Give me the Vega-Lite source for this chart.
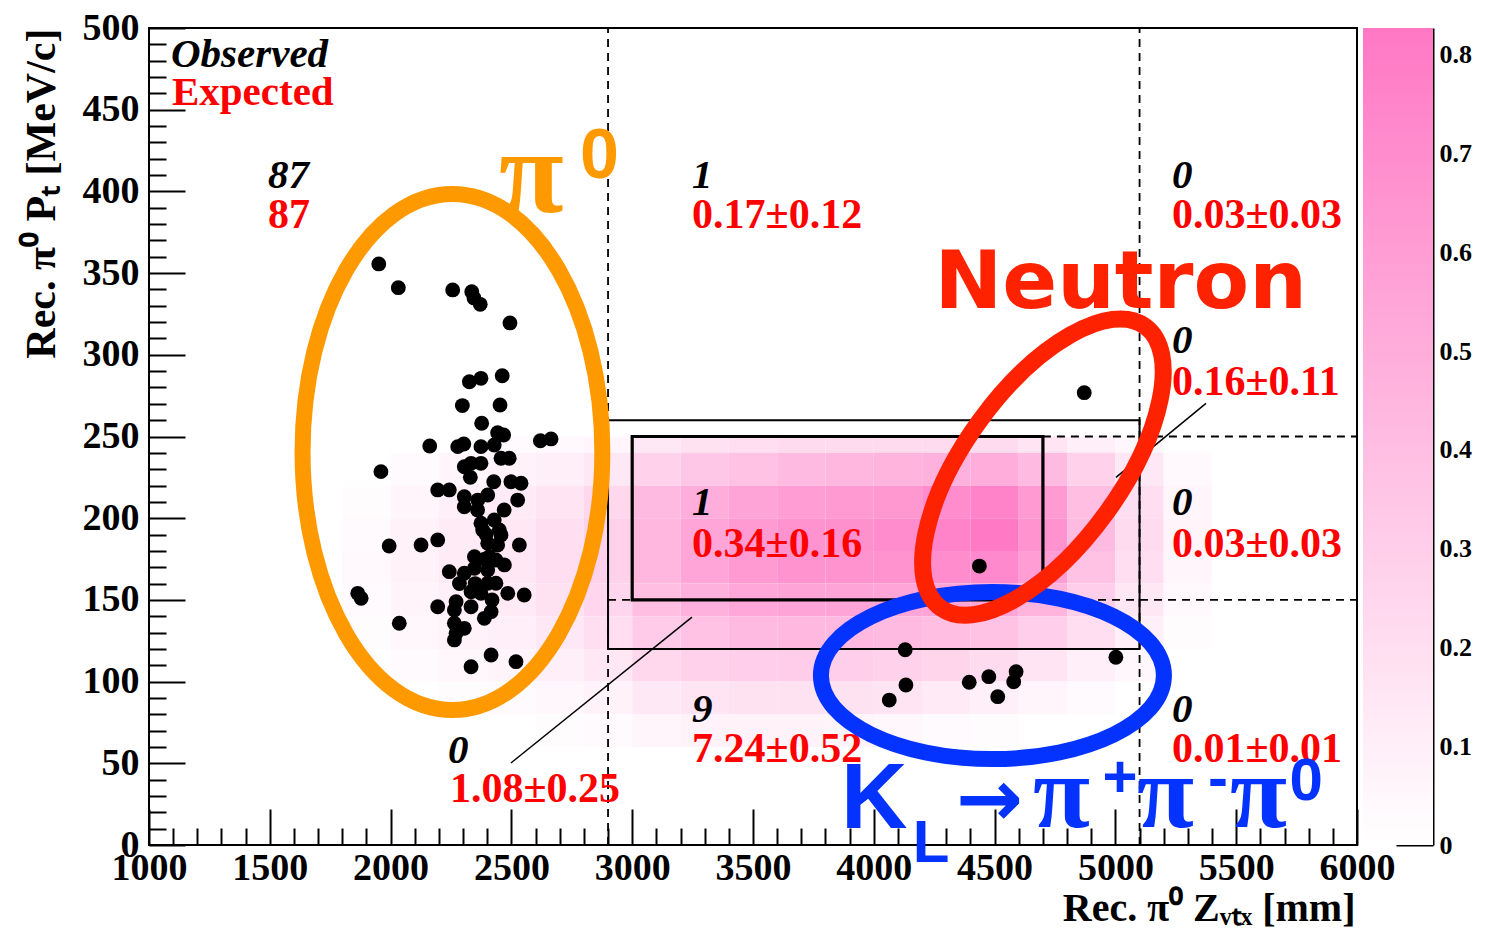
{
  "$schema": "https://vega.github.io/schema/vega-lite/v6.json",
  "background": "white",
  "padding": {"left": 19, "top": 8, "right": 0, "bottom": 0},
  "autosize": {"type": "pad"},
  "config": {"view": {"stroke": null}},
  "spacing": 6,
  "bounds": "flush",
  "datasets": {
    "heat": [
      {"x":2400,"x2":2600,"y":240,"y2":250,"v":0.03},{"x":2600,"x2":2800,"y":240,"y2":250,"v":0.04},{"x":2800,"x2":3000,"y":240,"y2":250,"v":0.06},{"x":3000,"x2":3200,"y":240,"y2":250,"v":0.14},{"x":3200,"x2":3400,"y":240,"y2":250,"v":0.18},{"x":3400,"x2":3600,"y":240,"y2":250,"v":0.2},{"x":3600,"x2":3800,"y":240,"y2":250,"v":0.22},{"x":3800,"x2":4000,"y":240,"y2":250,"v":0.22},{"x":4000,"x2":4200,"y":240,"y2":250,"v":0.22},{"x":4200,"x2":4400,"y":240,"y2":250,"v":0.22},{"x":4400,"x2":4600,"y":240,"y2":250,"v":0.22},{"x":4600,"x2":4800,"y":240,"y2":250,"v":0.16},{"x":4800,"x2":5000,"y":240,"y2":250,"v":0.1},{"x":5000,"x2":5200,"y":240,"y2":250,"v":0.05},
      {"x":2000,"x2":2200,"y":220,"y2":240,"v":0.03},{"x":2200,"x2":2400,"y":220,"y2":240,"v":0.06},{"x":2400,"x2":2600,"y":220,"y2":240,"v":0.08},{"x":2600,"x2":2800,"y":220,"y2":240,"v":0.1},{"x":2800,"x2":3000,"y":220,"y2":240,"v":0.14},{"x":3000,"x2":3200,"y":220,"y2":240,"v":0.28},{"x":3200,"x2":3400,"y":220,"y2":240,"v":0.34},{"x":3400,"x2":3600,"y":220,"y2":240,"v":0.38},{"x":3600,"x2":3800,"y":220,"y2":240,"v":0.42},{"x":3800,"x2":4000,"y":220,"y2":240,"v":0.44},{"x":4000,"x2":4200,"y":220,"y2":240,"v":0.46},{"x":4200,"x2":4400,"y":220,"y2":240,"v":0.48},{"x":4400,"x2":4600,"y":220,"y2":240,"v":0.5},{"x":4600,"x2":4800,"y":220,"y2":240,"v":0.42},{"x":4800,"x2":5000,"y":220,"y2":240,"v":0.28},{"x":5000,"x2":5200,"y":220,"y2":240,"v":0.14},{"x":5200,"x2":5400,"y":220,"y2":240,"v":0.04},
      {"x":1800,"x2":2000,"y":200,"y2":220,"v":0.02},{"x":2000,"x2":2200,"y":200,"y2":220,"v":0.06},{"x":2200,"x2":2400,"y":200,"y2":220,"v":0.1},{"x":2400,"x2":2600,"y":200,"y2":220,"v":0.12},{"x":2600,"x2":2800,"y":200,"y2":220,"v":0.16},{"x":2800,"x2":3000,"y":200,"y2":220,"v":0.24},{"x":3000,"x2":3200,"y":200,"y2":220,"v":0.42},{"x":3200,"x2":3400,"y":200,"y2":220,"v":0.5},{"x":3400,"x2":3600,"y":200,"y2":220,"v":0.56},{"x":3600,"x2":3800,"y":200,"y2":220,"v":0.6},{"x":3800,"x2":4000,"y":200,"y2":220,"v":0.62},{"x":4000,"x2":4200,"y":200,"y2":220,"v":0.64},{"x":4200,"x2":4400,"y":200,"y2":220,"v":0.7},{"x":4400,"x2":4600,"y":200,"y2":220,"v":0.76},{"x":4600,"x2":4800,"y":200,"y2":220,"v":0.62},{"x":4800,"x2":5000,"y":200,"y2":220,"v":0.4},{"x":5000,"x2":5200,"y":200,"y2":220,"v":0.2},{"x":5200,"x2":5400,"y":200,"y2":220,"v":0.06},
      {"x":1800,"x2":2000,"y":180,"y2":200,"v":0.03},{"x":2000,"x2":2200,"y":180,"y2":200,"v":0.08},{"x":2200,"x2":2400,"y":180,"y2":200,"v":0.12},{"x":2400,"x2":2600,"y":180,"y2":200,"v":0.15},{"x":2600,"x2":2800,"y":180,"y2":200,"v":0.2},{"x":2800,"x2":3000,"y":180,"y2":200,"v":0.28},{"x":3000,"x2":3200,"y":180,"y2":200,"v":0.45},{"x":3200,"x2":3400,"y":180,"y2":200,"v":0.55},{"x":3400,"x2":3600,"y":180,"y2":200,"v":0.62},{"x":3600,"x2":3800,"y":180,"y2":200,"v":0.66},{"x":3800,"x2":4000,"y":180,"y2":200,"v":0.68},{"x":4000,"x2":4200,"y":180,"y2":200,"v":0.7},{"x":4200,"x2":4400,"y":180,"y2":200,"v":0.76},{"x":4400,"x2":4600,"y":180,"y2":200,"v":0.82},{"x":4600,"x2":4800,"y":180,"y2":200,"v":0.66},{"x":4800,"x2":5000,"y":180,"y2":200,"v":0.42},{"x":5000,"x2":5200,"y":180,"y2":200,"v":0.22},{"x":5200,"x2":5400,"y":180,"y2":200,"v":0.07},
      {"x":1800,"x2":2000,"y":160,"y2":180,"v":0.04},{"x":2000,"x2":2200,"y":160,"y2":180,"v":0.08},{"x":2200,"x2":2400,"y":160,"y2":180,"v":0.12},{"x":2400,"x2":2600,"y":160,"y2":180,"v":0.15},{"x":2600,"x2":2800,"y":160,"y2":180,"v":0.2},{"x":2800,"x2":3000,"y":160,"y2":180,"v":0.28},{"x":3000,"x2":3200,"y":160,"y2":180,"v":0.45},{"x":3200,"x2":3400,"y":160,"y2":180,"v":0.55},{"x":3400,"x2":3600,"y":160,"y2":180,"v":0.62},{"x":3600,"x2":3800,"y":160,"y2":180,"v":0.66},{"x":3800,"x2":4000,"y":160,"y2":180,"v":0.66},{"x":4000,"x2":4200,"y":160,"y2":180,"v":0.66},{"x":4200,"x2":4400,"y":160,"y2":180,"v":0.7},{"x":4400,"x2":4600,"y":160,"y2":180,"v":0.72},{"x":4600,"x2":4800,"y":160,"y2":180,"v":0.6},{"x":4800,"x2":5000,"y":160,"y2":180,"v":0.38},{"x":5000,"x2":5200,"y":160,"y2":180,"v":0.2},{"x":5200,"x2":5400,"y":160,"y2":180,"v":0.06},
      {"x":1800,"x2":2000,"y":140,"y2":160,"v":0.03},{"x":2000,"x2":2200,"y":140,"y2":160,"v":0.07},{"x":2200,"x2":2400,"y":140,"y2":160,"v":0.1},{"x":2400,"x2":2600,"y":140,"y2":160,"v":0.13},{"x":2600,"x2":2800,"y":140,"y2":160,"v":0.18},{"x":2800,"x2":3000,"y":140,"y2":160,"v":0.25},{"x":3000,"x2":3200,"y":140,"y2":160,"v":0.4},{"x":3200,"x2":3400,"y":140,"y2":160,"v":0.48},{"x":3400,"x2":3600,"y":140,"y2":160,"v":0.54},{"x":3600,"x2":3800,"y":140,"y2":160,"v":0.56},{"x":3800,"x2":4000,"y":140,"y2":160,"v":0.56},{"x":4000,"x2":4200,"y":140,"y2":160,"v":0.55},{"x":4200,"x2":4400,"y":140,"y2":160,"v":0.56},{"x":4400,"x2":4600,"y":140,"y2":160,"v":0.55},{"x":4600,"x2":4800,"y":140,"y2":160,"v":0.46},{"x":4800,"x2":5000,"y":140,"y2":160,"v":0.3},{"x":5000,"x2":5200,"y":140,"y2":160,"v":0.15},{"x":5200,"x2":5400,"y":140,"y2":160,"v":0.04},
      {"x":1800,"x2":2000,"y":120,"y2":140,"v":0.02},{"x":2000,"x2":2200,"y":120,"y2":140,"v":0.05},{"x":2200,"x2":2400,"y":120,"y2":140,"v":0.08},{"x":2400,"x2":2600,"y":120,"y2":140,"v":0.1},{"x":2600,"x2":2800,"y":120,"y2":140,"v":0.14},{"x":2800,"x2":3000,"y":120,"y2":140,"v":0.2},{"x":3000,"x2":3200,"y":120,"y2":140,"v":0.32},{"x":3200,"x2":3400,"y":120,"y2":140,"v":0.38},{"x":3400,"x2":3600,"y":120,"y2":140,"v":0.42},{"x":3600,"x2":3800,"y":120,"y2":140,"v":0.43},{"x":3800,"x2":4000,"y":120,"y2":140,"v":0.43},{"x":4000,"x2":4200,"y":120,"y2":140,"v":0.42},{"x":4200,"x2":4400,"y":120,"y2":140,"v":0.4},{"x":4400,"x2":4600,"y":120,"y2":140,"v":0.38},{"x":4600,"x2":4800,"y":120,"y2":140,"v":0.3},{"x":4800,"x2":5000,"y":120,"y2":140,"v":0.2},{"x":5000,"x2":5200,"y":120,"y2":140,"v":0.1},{"x":5200,"x2":5400,"y":120,"y2":140,"v":0.02},
      {"x":2000,"x2":2200,"y":100,"y2":120,"v":0.03},{"x":2200,"x2":2400,"y":100,"y2":120,"v":0.05},{"x":2400,"x2":2600,"y":100,"y2":120,"v":0.07},{"x":2600,"x2":2800,"y":100,"y2":120,"v":0.1},{"x":2800,"x2":3000,"y":100,"y2":120,"v":0.15},{"x":3000,"x2":3200,"y":100,"y2":120,"v":0.24},{"x":3200,"x2":3400,"y":100,"y2":120,"v":0.28},{"x":3400,"x2":3600,"y":100,"y2":120,"v":0.3},{"x":3600,"x2":3800,"y":100,"y2":120,"v":0.31},{"x":3800,"x2":4000,"y":100,"y2":120,"v":0.3},{"x":4000,"x2":4200,"y":100,"y2":120,"v":0.28},{"x":4200,"x2":4400,"y":100,"y2":120,"v":0.26},{"x":4400,"x2":4600,"y":100,"y2":120,"v":0.22},{"x":4600,"x2":4800,"y":100,"y2":120,"v":0.16},{"x":4800,"x2":5000,"y":100,"y2":120,"v":0.1},{"x":5000,"x2":5200,"y":100,"y2":120,"v":0.05},
      {"x":2200,"x2":2400,"y":80,"y2":100,"v":0.02},{"x":2400,"x2":2600,"y":80,"y2":100,"v":0.03},{"x":2600,"x2":2800,"y":80,"y2":100,"v":0.05},{"x":2800,"x2":3000,"y":80,"y2":100,"v":0.08},{"x":3000,"x2":3200,"y":80,"y2":100,"v":0.14},{"x":3200,"x2":3400,"y":80,"y2":100,"v":0.16},{"x":3400,"x2":3600,"y":80,"y2":100,"v":0.18},{"x":3600,"x2":3800,"y":80,"y2":100,"v":0.18},{"x":3800,"x2":4000,"y":80,"y2":100,"v":0.18},{"x":4000,"x2":4200,"y":80,"y2":100,"v":0.16},{"x":4200,"x2":4400,"y":80,"y2":100,"v":0.13},{"x":4400,"x2":4600,"y":80,"y2":100,"v":0.1},{"x":4600,"x2":4800,"y":80,"y2":100,"v":0.06},{"x":4800,"x2":5000,"y":80,"y2":100,"v":0.03},
      {"x":2600,"x2":2800,"y":60,"y2":80,"v":0.02},{"x":2800,"x2":3000,"y":60,"y2":80,"v":0.03},{"x":3000,"x2":3200,"y":60,"y2":80,"v":0.06},{"x":3200,"x2":3400,"y":60,"y2":80,"v":0.08},{"x":3400,"x2":3600,"y":60,"y2":80,"v":0.08},{"x":3600,"x2":3800,"y":60,"y2":80,"v":0.08},{"x":3800,"x2":4000,"y":60,"y2":80,"v":0.07},{"x":4000,"x2":4200,"y":60,"y2":80,"v":0.05},{"x":4200,"x2":4400,"y":60,"y2":80,"v":0.03},{"x":4400,"x2":4600,"y":60,"y2":80,"v":0.02}
    ],
    "dots": [
      {"x":1951,"y":355.6},{"x":2032,"y":341.1},{"x":2257,"y":339.7},{"x":2336,"y":338.6},{"x":2345,"y":334.8},{"x":2371,"y":330.9},{"x":2494,"y":319.5},{"x":2326,"y":283.5},{"x":2374,"y":285.6},{"x":2462,"y":287.2},
      {"x":2297,"y":268.9},{"x":2453,"y":269.3},{"x":2377,"y":258.1},{"x":2443,"y":252.3},{"x":2468,"y":250.9},{"x":2620,"y":247.4},{"x":2664,"y":248.5},{"x":2162,"y":244.2},{"x":2278,"y":243.8},{"x":2303,"y":245.4},
      {"x":2374,"y":243.8},{"x":2429,"y":244.8},{"x":2457,"y":236.7},{"x":2491,"y":236.7},{"x":2305,"y":231.5},{"x":2333,"y":233.6},{"x":2374,"y":233.6},{"x":1960,"y":228.5},{"x":2427,"y":222.3},{"x":2498,"y":222.3},
      {"x":2540,"y":221.4},{"x":2195,"y":217.3},{"x":2243,"y":217.3},{"x":2305,"y":213.2},{"x":2361,"y":211.1},{"x":2402,"y":214.2},{"x":2305,"y":207},{"x":2526,"y":211.1},{"x":2374,"y":196.9},{"x":2429,"y":198.9},
      {"x":2381,"y":192.8},{"x":2450,"y":192.8},{"x":2457,"y":189.7},{"x":2402,"y":184.6},{"x":2443,"y":183.6},{"x":2533,"y":183.6},{"x":1994,"y":183},{"x":2126,"y":183.6},{"x":2195,"y":186.7},{"x":2347,"y":176.4},
      {"x":2409,"y":176.4},{"x":2436,"y":174.4},{"x":2243,"y":167.3},{"x":2305,"y":166.3},{"x":2347,"y":169.3},{"x":2402,"y":168.3},{"x":2471,"y":171.4},{"x":2402,"y":160.2},{"x":2436,"y":160.2},{"x":2333,"y":155},
      {"x":2374,"y":154},{"x":2485,"y":154},{"x":2553,"y":153},{"x":1864,"y":154},{"x":1878,"y":151},{"x":2195,"y":145.8},{"x":2271,"y":148.9},{"x":2264,"y":143.8},{"x":2333,"y":145.8},{"x":2416,"y":142.8},
      {"x":2388,"y":138.7},{"x":2036,"y":135.7},{"x":2264,"y":135.7},{"x":2305,"y":132.6},{"x":2271,"y":129.6},{"x":2264,"y":125.5},{"x":2416,"y":116.3},{"x":2333,"y":109.1},{"x":2519,"y":112.2},
      {"x":2360,"y":205},{"x":2395,"y":190},{"x":2350,"y":160},{"x":2420,"y":150},{"x":2330,"y":225},{"x":2470,"y":205},{"x":2390,"y":175},{"x":2285,"y":160},
      {"x":4871,"y":276.8},{"x":4437,"y":170.7},{"x":5002,"y":114.9},{"x":4130,"y":119.5},{"x":4133,"y":97.9},{"x":4064,"y":88.7},{"x":4395,"y":99.6},{"x":4476,"y":103},{"x":4513,"y":90.8},{"x":4589,"y":106.1},{"x":4579,"y":99.9}
    ],
    "vlines": [{"x":2900,"y":0,"y2":500},{"x":5100,"y":0,"y2":500}],
    "hlines": [{"x":4700,"x2":6000,"y":250},{"x":2900,"x2":6000,"y":150}],
    "outerBox": [{"x":2900,"x2":5100,"y":120,"y2":260}],
    "innerBox": [{"x":3000,"x2":4700,"y":150,"y2":250}],
    "leaders": [{"x":2498,"y":50.2,"x2":3247.5,"y2":139.5},{"x":5002.4,"y":225,"x2":5374.9,"y2":270.3}],
    "hdrObs": [{"x":1091,"y":476.1,"t":"Observed"}],
    "hdrExp": [{"x":1095,"y":452.9,"t":"Expected"}],
    "obs": [
      {"x":1493,"y":402.1,"t":"87"},{"x":3248,"y":402.1,"t":"1"},{"x":5234,"y":402.1,"t":"0"},{"x":5234,"y":301.1,"t":"0"},{"x":3248,"y":202,"t":"1"},{"x":5234,"y":202,"t":"0"},{"x":3248,"y":75.3,"t":"9"},{"x":5234,"y":75.3,"t":"0"},{"x":2238,"y":50.2,"t":"0"}
    ],
    "exp": [
      {"x":1493,"y":377.6,"t":"87"},{"x":3248,"y":377.6,"t":"0.17±0.12"},{"x":5234,"y":377.6,"t":"0.03±0.03"},{"x":5234,"y":275.4,"t":"0.16±0.11"},{"x":3248,"y":176.3,"t":"0.34±0.16"},{"x":5234,"y":176.3,"t":"0.03±0.03"},{"x":3248,"y":50.8,"t":"7.24±0.52"},{"x":5234,"y":50.8,"t":"0.01±0.01"},{"x":2246,"y":26.3,"t":"1.08±0.25"}
    ],
    "ellOrange": [{"x":2256,"y":240.5}],
    "ellRed": [{"x":4700,"y":231.3}],
    "ellBlue": [{"x":4491,"y":103.7}],
    "piOrange": [{"x":2449,"y":387.4,"t":"π"}],
    "zeroOrange": [{"x":2784,"y":408.2,"t":"0"}],
    "neutron": [{"x":4251,"y":328.6,"t":"Neutron"}],
    "kBig": [{"x":3864,"y":10.4,"t":"K"}],
    "arrow": [{"x":4340,"y":11.6,"t":"→"}],
    "piBlue": [{"x":4659,"y":11,"t":"π"},{"x":5089,"y":11,"t":"π"},{"x":5474,"y":11,"t":"π"}],
    "blueSmall": [{"x":4161,"y":-10.4,"t":"L"},{"x":4947,"y":29.4,"t":"+"},{"x":5383,"y":28.8,"t":"-"},{"x":5721,"y":27.5,"t":"0"}],
    "cbar": [{"lo":0,"hi":0.827}]
  },
  "hconcat": [
    {
      "width": 1208,
      "height": 817,
      "view": {"stroke": "black", "strokeWidth": 2},
      "encoding": {
        "x": {
          "field": "x", "type": "quantitative",
          "scale": {"domain": [1000, 6000], "nice": false, "zero": false},
          "axis": {
            "values": [1000,1100,1200,1300,1400,1500,1600,1700,1800,1900,2000,2100,2200,2300,2400,2500,2600,2700,2800,2900,3000,3100,3200,3300,3400,3500,3600,3700,3800,3900,4000,4100,4200,4300,4400,4500,4600,4700,4800,4900,5000,5100,5200,5300,5400,5500,5600,5700,5800,5900,6000],
            "format": "d",
            "labelExpr": "datum.value % 500 === 0 ? datum.label : ''",
            "tickSize": {"condition": {"test": "datum.value % 500 === 0", "value": -36}, "value": -17},
            "tickColor": "black", "tickWidth": 2,
            "domain": false, "grid": false,
            "labelFont": "Liberation Serif", "labelFontWeight": "bold", "labelFontSize": 38, "labelColor": "black",
            "labelPadding": 40, "labelFlush": false, "labelOverlap": false,
            "title": "Rec.  π⁰  Zᵥₜₓ [mm]",
            "titleFont": "Liberation Serif", "titleFontWeight": "bold", "titleFontSize": 40, "titleColor": "black",
            "titleX": 1206, "titleY": 75, "titleAlign": "right", "titleAnchor": "end", "titleBaseline": "alphabetic", "titleAngle": 0
          }
        },
        "y": {
          "field": "y", "type": "quantitative",
          "scale": {"domain": [0, 500], "nice": false, "zero": false},
          "axis": {
            "values": [0,10,20,30,40,50,60,70,80,90,100,110,120,130,140,150,160,170,180,190,200,210,220,230,240,250,260,270,280,290,300,310,320,330,340,350,360,370,380,390,400,410,420,430,440,450,460,470,480,490,500],
            "format": "d",
            "labelExpr": "datum.value % 50 === 0 ? datum.label : ''",
            "tickSize": {"condition": {"test": "datum.value % 50 === 0", "value": -36}, "value": -17},
            "tickColor": "black", "tickWidth": 2,
            "domain": false, "grid": false,
            "labelFont": "Liberation Serif", "labelFontWeight": "bold", "labelFontSize": 38, "labelColor": "black",
            "labelPadding": 46, "labelAlign": "right", "labelBaseline": "middle", "labelFlush": false, "labelOverlap": false,
            "title": "Rec.  π⁰  Pₜ [MeV/c]",
            "titleFont": "Liberation Serif", "titleFontWeight": "bold", "titleFontSize": 42, "titleColor": "black",
            "titleX": -95, "titleY": 0, "titleAngle": 270, "titleAlign": "right", "titleBaseline": "alphabetic"
          }
        }
      },
      "layer": [
        {
          "data": {"name": "heat"},
          "mark": {"type": "rect"},
          "encoding": {
            "x2": {"field": "x2"},
            "y2": {"field": "y2"},
            "color": {"field": "v", "type": "quantitative", "scale": {"domain": [0, 0.827], "range": ["#ffffff", "#ff78c4"], "interpolate": "rgb"}, "legend": null}
          }
        },
        {
          "data": {"name": "vlines"},
          "mark": {"type": "rule", "color": "black", "strokeWidth": 1.8, "strokeDash": [8, 6]},
          "encoding": {"y2": {"field": "y2"}}
        },
        {
          "data": {"name": "hlines"},
          "mark": {"type": "rule", "color": "black", "strokeWidth": 1.8, "strokeDash": [8, 6]},
          "encoding": {"x2": {"field": "x2"}}
        },
        {
          "data": {"name": "outerBox"},
          "mark": {"type": "rect", "fillOpacity": 0, "stroke": "black", "strokeWidth": 2},
          "encoding": {"x2": {"field": "x2"}, "y2": {"field": "y2"}}
        },
        {
          "data": {"name": "innerBox"},
          "mark": {"type": "rect", "fillOpacity": 0, "stroke": "black", "strokeWidth": 3.2},
          "encoding": {"x2": {"field": "x2"}, "y2": {"field": "y2"}}
        },
        {
          "data": {"name": "leaders"},
          "mark": {"type": "rule", "color": "black", "strokeWidth": 1.5},
          "encoding": {"x2": {"field": "x2"}, "y2": {"field": "y2"}}
        },
        {
          "data": {"name": "hdrObs"},
          "mark": {"type": "text", "align": "left", "baseline": "alphabetic", "font": "Liberation Serif", "fontSize": 41, "fontStyle": "italic", "fontWeight": "bold", "color": "black"},
          "encoding": {"text": {"field": "t"}}
        },
        {
          "data": {"name": "hdrExp"},
          "mark": {"type": "text", "align": "left", "baseline": "alphabetic", "font": "Liberation Serif", "fontSize": 41, "fontWeight": "bold", "color": "#ff0000"},
          "encoding": {"text": {"field": "t"}}
        },
        {
          "data": {"name": "obs"},
          "mark": {"type": "text", "align": "left", "baseline": "alphabetic", "font": "Liberation Serif", "fontSize": 41, "fontStyle": "italic", "fontWeight": "bold", "color": "black"},
          "encoding": {"text": {"field": "t"}}
        },
        {
          "data": {"name": "exp"},
          "mark": {"type": "text", "align": "left", "baseline": "alphabetic", "font": "Liberation Serif", "fontSize": 42, "fontWeight": "bold", "color": "#ff0000"},
          "encoding": {"text": {"field": "t"}}
        },
        {
          "data": {"name": "dots"},
          "mark": {"type": "circle", "size": 220, "color": "black", "opacity": 1},
          "encoding": {}
        },
        {
          "data": {"name": "ellOrange"},
          "mark": {"type": "point", "shape": "M -0.581 0 A 0.581 1 0 1 0 0.581 0 A 0.581 1 0 1 0 -0.581 0 Z", "size": 266256, "filled": false, "color": "#ff9900", "strokeWidth": 16, "opacity": 1},
          "encoding": {}
        },
        {
          "data": {"name": "ellBlue"},
          "mark": {"type": "point", "shape": "M -1 0 A 1 0.487 0 1 0 1 0 A 1 0.487 0 1 0 -1 0 Z", "size": 117649, "filled": false, "color": "#0433ff", "strokeWidth": 16, "opacity": 1},
          "encoding": {}
        },
        {
          "data": {"name": "ellRed"},
          "mark": {"type": "point", "shape": "M -0.45 0 A 0.45 1 0 1 0 0.45 0 A 0.45 1 0 1 0 -0.45 0 Z", "size": 121104, "angle": 36, "filled": false, "color": "#ff2200", "strokeWidth": 17, "opacity": 1},
          "encoding": {}
        },
        {
          "data": {"name": "piOrange"},
          "mark": {"type": "text", "align": "left", "baseline": "alphabetic", "font": "Liberation Serif", "fontSize": 118, "fontWeight": "bold", "color": "#ff9900"},
          "encoding": {"text": {"field": "t"}}
        },
        {
          "data": {"name": "zeroOrange"},
          "mark": {"type": "text", "align": "left", "baseline": "alphabetic", "font": "Liberation Sans", "fontSize": 70, "fontWeight": "bold", "color": "#ff9900"},
          "encoding": {"text": {"field": "t"}}
        },
        {
          "data": {"name": "neutron"},
          "mark": {"type": "text", "align": "left", "baseline": "alphabetic", "font": "DejaVu Sans", "fontSize": 81, "fontWeight": "bold", "color": "#ff2200"},
          "encoding": {"text": {"field": "t"}}
        },
        {
          "data": {"name": "kBig"},
          "mark": {"type": "text", "align": "left", "baseline": "alphabetic", "font": "Liberation Sans", "fontSize": 92, "fontWeight": "bold", "color": "#0433ff"},
          "encoding": {"text": {"field": "t"}}
        },
        {
          "data": {"name": "arrow"},
          "mark": {"type": "text", "align": "left", "baseline": "alphabetic", "font": "DejaVu Sans", "fontSize": 80, "fontWeight": "bold", "color": "#0433ff"},
          "encoding": {"text": {"field": "t"}}
        },
        {
          "data": {"name": "piBlue"},
          "mark": {"type": "text", "align": "left", "baseline": "alphabetic", "font": "Liberation Serif", "fontSize": 104, "fontWeight": "bold", "color": "#0433ff"},
          "encoding": {"text": {"field": "t"}}
        },
        {
          "data": {"name": "blueSmall"},
          "mark": {"type": "text", "align": "left", "baseline": "alphabetic", "font": "Liberation Sans", "fontSize": 60, "fontWeight": "bold", "color": "#0433ff"},
          "encoding": {"text": {"field": "t"}}
        }
      ]
    },
    {
      "width": 70,
      "height": 817,
      "data": {"name": "cbar"},
      "mark": {"type": "rect", "fill": {"gradient": "linear", "x1": 0, "y1": 1, "x2": 0, "y2": 0, "stops": [{"offset": 0, "color": "#ffffff"}, {"offset": 1, "color": "#ff78c4"}]}},
      "encoding": {
        "y": {
          "field": "lo", "type": "quantitative",
          "scale": {"domain": [0, 0.827], "nice": false, "zero": false},
          "axis": {
            "orient": "right",
            "values": [0, 0.1, 0.2, 0.3, 0.4, 0.5, 0.6, 0.7, 0.8],
            "labelExpr": "datum.value === 0 ? '0' : format(datum.value, '.1f')",
            "tickSize": -37, "tickWidth": 2, "tickColor": "black",
            "domain": true, "domainColor": "black", "domainWidth": 2,
            "grid": false,
            "labelFont": "Liberation Serif", "labelFontWeight": "bold", "labelFontSize": 26, "labelColor": "black",
            "labelPadding": 43, "labelFlush": false, "labelOverlap": false,
            "title": null
          }
        },
        "y2": {"field": "hi"}
      }
    }
  ]
}
